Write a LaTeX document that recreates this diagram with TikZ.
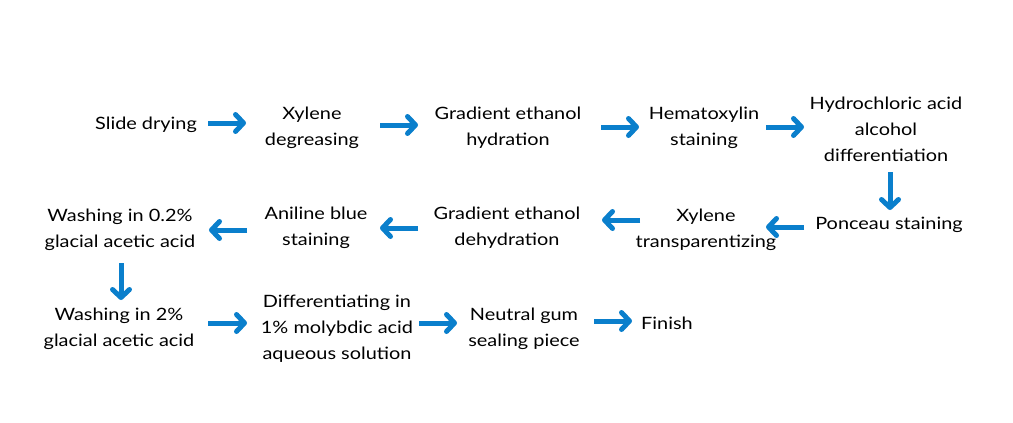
\documentclass[tikz,border=0pt]{standalone}
\usepackage{fontspec}
\setmainfont{Lato}[FakeStretch=1.17]
\usetikzlibrary{arrows.meta}
\definecolor{arrblue}{HTML}{0A7FCC}
\tikzset{
  stepnode/.style={align=center,inner sep=0pt,font=\fontsize{17}{26}\selectfont,text=black},
  arr/.style={draw=arrblue,line width=5pt,-{Straight Barb[length=8pt,width=17pt,round]}}
}
\begin{document}
\begin{tikzpicture}[x=1pt,y=-1pt]
\useasboundingbox[fill=white] (0,0) rectangle (1013,423);
% row 1
\node[stepnode] (n1) at (146,125) {Slide drying};
\node[stepnode] (n2) at (312,128) {Xylene\\degreasing};
\node[stepnode] (n3) at (508,128) {Gradient ethanol\\hydration};
\node[stepnode] (n4) at (704,128) {Hematoxylin\\staining};
\node[stepnode] (n5) at (886,129) {Hydrochloric acid\\alcohol\\differentiation};
% row 2
\node[stepnode] (n6) at (889,225) {Ponceau staining};
\node[stepnode] (n7) at (706,230) {Xylene\\transparentizing};
\node[stepnode] (n8) at (507,228) {Gradient ethanol\\dehydration};
\node[stepnode] (n9) at (316,228) {Aniline blue\\staining};
\node[stepnode] (n10) at (120,230) {Washing in 0.2\%\\glacial acetic acid};
% row 3
\node[stepnode] (n11) at (119,329) {Washing in 2\%\\glacial acetic acid};
\node[stepnode] (n12) at (337,329) {Differentiating in\\1\% molybdic acid\\aqueous solution};
\node[stepnode] (n13) at (524,329) {Neutral gum\\sealing piece};
\node[stepnode] (n14) at (667,323) {Finish};
% arrow end points
\coordinate (a1s) at (208,123); \coordinate (a1e) at (246,123);
\coordinate (a2s) at (380,125); \coordinate (a2e) at (418,125);
\coordinate (a3s) at (601,127); \coordinate (a3e) at (639,127);
\coordinate (a4s) at (766,127); \coordinate (a4e) at (804,127);
\coordinate (a5s) at (890,172); \coordinate (a5e) at (890,210);
\coordinate (a6s) at (804,227); \coordinate (a6e) at (766,227);
\coordinate (a7s) at (640,220); \coordinate (a7e) at (602,220);
\coordinate (a8s) at (418,228); \coordinate (a8e) at (380,228);
\coordinate (a9s) at (247,230); \coordinate (a9e) at (209,230);
\coordinate (a10s) at (121,263); \coordinate (a10e) at (121,300);
\coordinate (a11s) at (208,323); \coordinate (a11e) at (247,323);
\coordinate (a12s) at (419,323); \coordinate (a12e) at (457,323);
\coordinate (a13s) at (594,321); \coordinate (a13e) at (632,321);
\foreach \i in {1,...,13} \draw[arr] (a\i s) -- (a\i e);
\end{tikzpicture}
\end{document}
